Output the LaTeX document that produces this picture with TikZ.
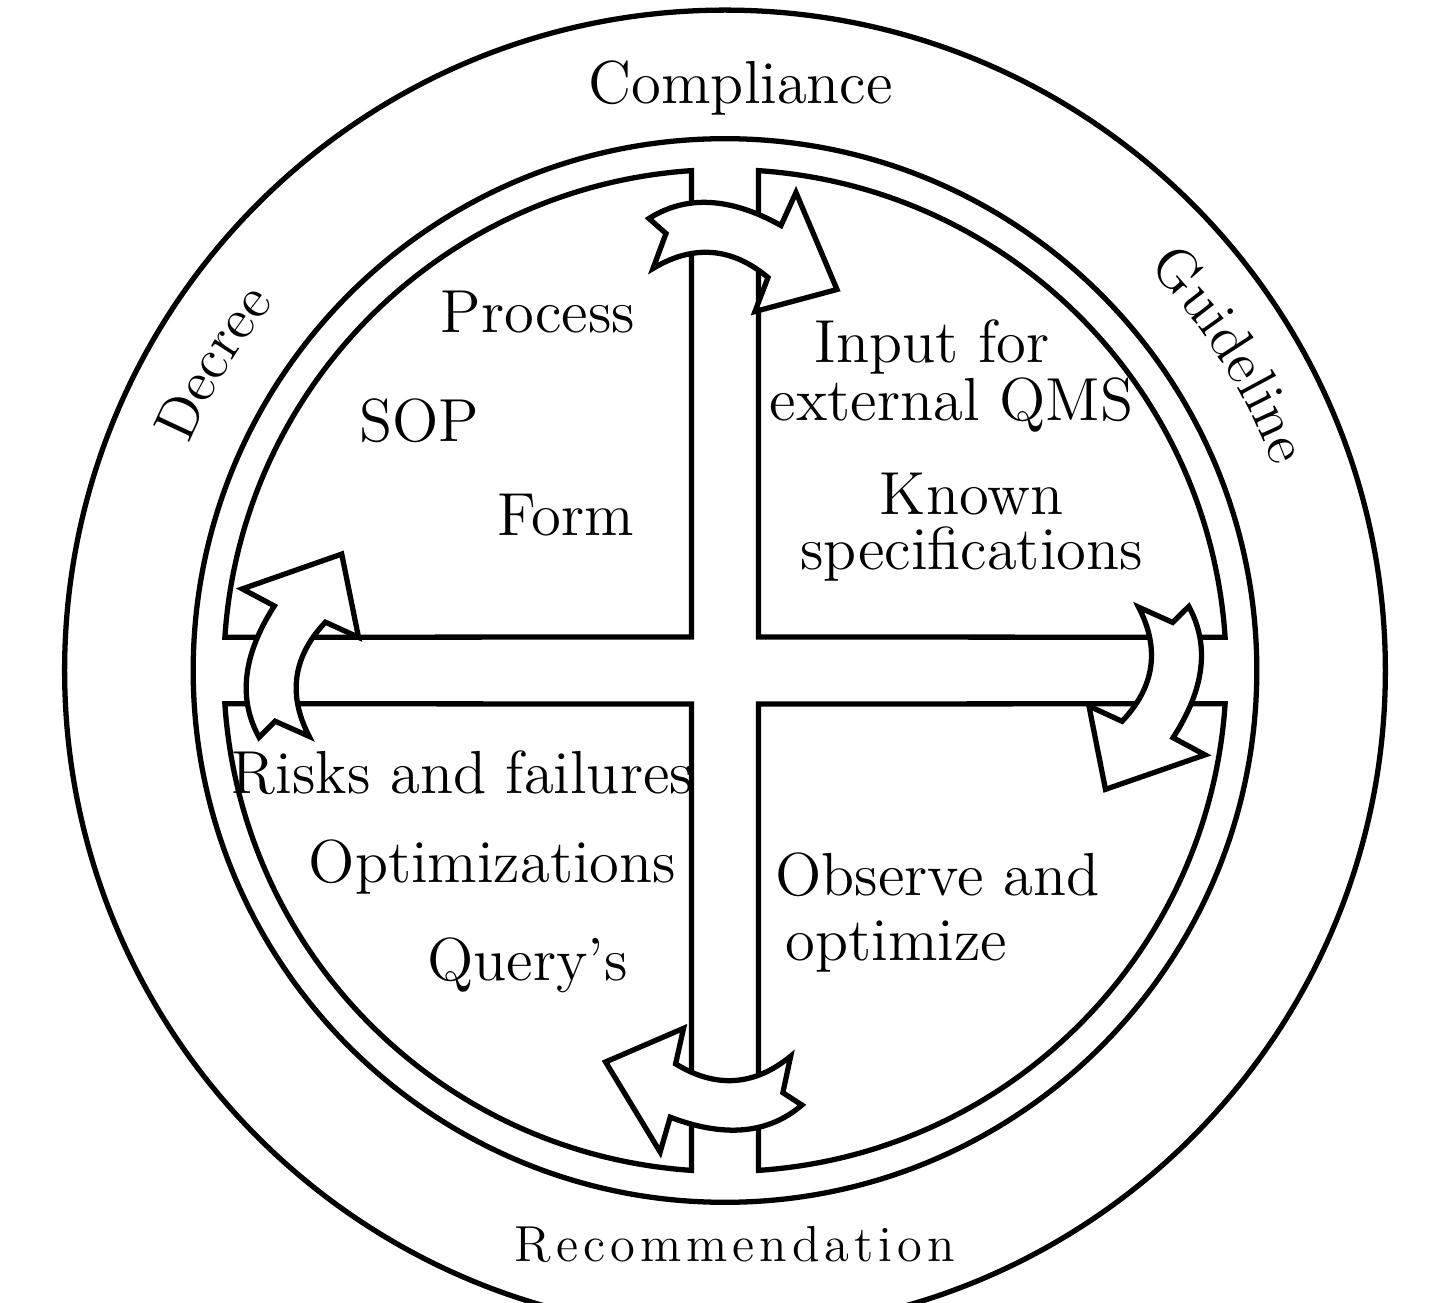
\documentclass[tikz,border=0pt]{standalone}
\usetikzlibrary{decorations.text}
% Latin Modern 12 design size, scaled to the sizes used below
\font\tagfont="[lmroman12-regular]:mapping=tex-text" at 17.28pt
\font\ringfont="[lmroman12-regular]:mapping=tex-text" at 16.5pt
\font\recfont="[lmroman12-regular]:mapping=tex-text" at 14.4pt
% outline of one curved block arrow, drawn for the top gap
\newcommand\turnarrowshape{%
  (-71,456) .. controls (-33.7,479.7) and (10.3,477.3) .. (61,449)
  -- (76,482) -- (117,385) -- (35,363) -- (48,397)
  .. controls (11.7,427.3) and (-26.7,430.3) .. (-67,406)
  -- (-54,441) -- cycle}
\tikzset{
  rim/.style={line width=1.5pt},
  quarter/.style={line width=1.5pt, line join=miter},
  turn/.style={draw, fill=white, line width=1.5pt, line join=miter},
  tag/.style={font=\tagfont, inner sep=0pt, anchor=base},
}
\begin{document}
\begin{tikzpicture}[x=0.01cm, y=0.01cm]
\useasboundingbox (-725,-632.5) rectangle (705,670.5);
\clip (-725,-632.5) rectangle (705,670.5);

% outer rings
\draw[rim] (0,0) circle[radius=6.6cm];
\draw[rim] (0,0) circle[radius=5.315cm];

% four quarter panels separated by a cross-shaped gap
\draw[quarter] (33.5,33.5) -- (33.5,499.88)
  arc[start angle=86.166, end angle=3.834, radius=5.01cm] -- cycle;
\draw[quarter] (-33.5,33.5) -- (-33.5,499.88)
  arc[start angle=93.834, end angle=176.166, radius=5.01cm] -- cycle;
\draw[quarter] (-33.5,-33.5) -- (-33.5,-499.88)
  arc[start angle=266.166, end angle=183.834, radius=5.01cm] -- cycle;
\draw[quarter] (33.5,-33.5) -- (33.5,-499.88)
  arc[start angle=273.834, end angle=356.166, radius=5.01cm] -- cycle;

% clockwise turning arrows over the gaps
\begin{scope}[shift={(-5,-4)}]
  \path[turn] \turnarrowshape;
\end{scope}
\begin{scope}[rotate=-90, shift={(-23.4,4.1)}, rotate=-3.8]
  \path[turn] \turnarrowshape;
\end{scope}
\begin{scope}[rotate=180, shift={(59.2,-6.4)}, rotate=8.3]
  \path[turn] \turnarrowshape;
\end{scope}
\begin{scope}[rotate=90, shift={(-24.5,6.4)}, rotate=-3.6]
  \path[turn] \turnarrowshape;
\end{scope}

% ring labels
\node[tag] (compliance) at (15.7,567.2) {Compliance};
\path[decorate, decoration={text along path, text={|\ringfont|Decree}, text align=center}]
  (166:582) arc[start angle=166, end angle=132, radius=5.82cm];
\path[decorate, decoration={text along path, text={|\ringfont|Guideline}, text align=center}]
  (52:585) arc[start angle=52, end angle=12, radius=5.85cm];
\path[decorate, decoration={text along path, text={|\recfont|Recommendation}, text align=fit to path}]
  (-210,-591.2) -- (230,-591.2);

% top left panel
\node[tag] (process) at (-187,337.5) {Process};
\node[tag] (sop) at (-306,228.5) {SOP};
\node[tag] (form) at (-159,134.5) {Form};

% top right panel
\node[tag] (input) at (207,307.5) {Input for};
\node[tag] (qms) at (226.5,249.5) {external QMS};
\node[tag] (known) at (246.5,155.5) {Known};
\node[tag] (specs) at (246.5,100.5) {specifications};

% bottom left panel
\node[tag] (risks) at (-262.5,-122.5) {Risks and failures};
\node[tag] (optim) at (-232.5,-211.5) {Optimizations};
\node[tag] (query) at (-197.5,-309.5) {Query’s};

% bottom right panel
\node[tag] (observe) at (212.5,-224.5) {Observe and};
\node[tag] (optimize) at (171.5,-289.5) {optimize};
\end{tikzpicture}
\end{document}
